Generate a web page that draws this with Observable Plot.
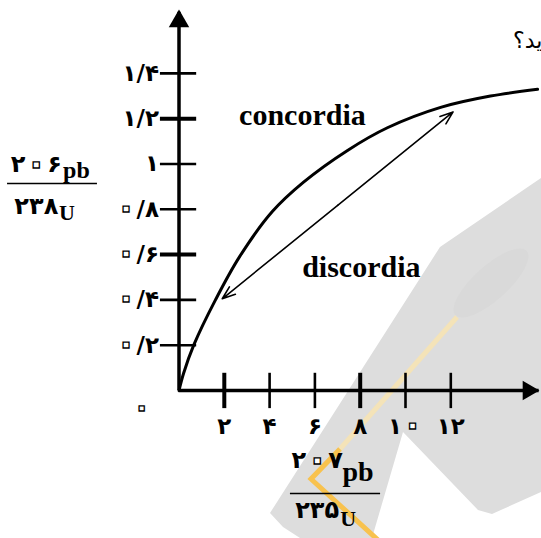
<!DOCTYPE html>
<html><head><meta charset="utf-8">
<script src="https://cdn.jsdelivr.net/npm/d3@7"></script>
<script src="https://cdn.jsdelivr.net/npm/@observablehq/plot@0.6"></script>
<style>
html,body{margin:0;padding:0;background:#fff;}
#wrap{position:relative;width:541px;height:538px;overflow:hidden;}
#wm{position:absolute;left:0;top:0;}
#chart{position:absolute;left:0;top:0;}
</style></head><body>
<div id="wrap">
<svg id="wm" width="541" height="538" aria-hidden="true">
  <path d="M541,178 L440,247 L270,513 L283,527 L300,538 L372,538 L403,432 L478,510 L492,514 L541,492 Z" fill="#dddddd"/>
  <ellipse cx="491" cy="283" rx="48" ry="17" transform="rotate(-42 491 283)" fill="#d9d9d9"/>
  <polyline points="457,317 340,449" stroke="#f4e3b8" stroke-width="5" fill="none"/>
  <polyline points="340,449 311,479 378,540" stroke="#f8c24e" stroke-width="5" fill="none" stroke-linejoin="miter"/>
</svg>
<div id="chart"></div>
</div>
<script>
// Concordia curve (x = 207Pb/235U, y = 206Pb/238U)
const concX = [0, 0.2, 0.65, 1.61, 2.67, 4.12, 5.5, 7.44, 9.2, 11.55, 13.75, 15.83];
const concY = [0, 0.075, 0.20, 0.40, 0.59, 0.79, 0.92, 1.06, 1.16, 1.25, 1.30, 1.33];
// Discordia double arrow end points
const discX = [1.91, 12.1];
const discY = [0.405, 1.23];
// Ticks
const yTicks = [0.2, 0.4, 0.6, 0.8, 1, 1.2, 1.4];
const yTickLabels = ["۰/۲", "۰/۴", "۰/۶", "۰/۸", "۱", "۱/۲", "۱/۴"];
const yBoldTicks = [0.6, 1.2];
const xTicks = [2, 4, 6, 8, 10, 12];
const xTickLabels = ["۲", "۴", "۶", "۸", "۱۰", "۱۲"];
const xBoldTicks = [2, 8];
const zeroLabel = ["۰"];
// Texts
const curveLabels = ["concordia", "discordia"];
const yLabelParts = ["۲۰۶", "pb", "۲۳۸", "U"];
const xLabelParts = ["۲۰۷", "pb", "۲۳۵", "U"];
const cornerText = ["ید؟"];

const conc = concX.map((x, i) => ({x, y: concY[i]}));
const mid = {x: (discX[0] + discX[1]) / 2, y: (discY[0] + discY[1]) / 2};
const discHalves = [0, 1].map(i => ({x1: mid.x, y1: mid.y, x2: discX[i], y2: discY[i]}));
const yT = yTicks.map((v, i) => ({v, label: yTickLabels[i], bold: yBoldTicks.includes(v)}));
const xT = xTicks.map((v, i) => ({v, label: xTickLabels[i], bold: xBoldTicks.includes(v)}));

const digitFont = "DejaVu Sans";
const latinFont = "Liberation Serif";

const plot = Plot.plot({
  width: 541, height: 538,
  margin: 0,
  style: {background: "transparent", overflow: "visible"},
  x: {domain: [0, 16], range: [178.5, 540.9], axis: null},
  y: {domain: [0, 1.6], range: [390, 27.6], axis: null},
  marks: [
    // axes lines
    Plot.ruleX([0], {y1: 0, y2: 1.67, stroke: "#000", strokeWidth: 3.5}),
    Plot.ruleY([0], {x1: 0, x2: 15.9, stroke: "#000", strokeWidth: 3.5}),
    Plot.dot([{x: 0, y: 1.63}], {x: "x", y: "y", symbol: "triangle", r: 7.6, fill: "#000", stroke: null}),
    Plot.dot([{x: 15.42, y: 0}], {x: "x", y: "y", symbol: "triangle", r: 7.2, rotate: 90, fill: "#000", stroke: null}),
    // y ticks
    Plot.ruleY(yT, {y: "v", x1: -0.82, x2: 0.78, stroke: "#000", strokeWidth: d => d.bold ? 4 : 2.6}),
    Plot.text(yT, {x: 0, y: "v", text: "label", dx: -20, textAnchor: "end", fontFamily: digitFont, fontWeight: "bold", fontSize: 23, fill: "#000"}),
    // x ticks
    Plot.ruleX(xT, {x: "v", y1: -0.08, y2: 0.076, stroke: "#000", strokeWidth: d => d.bold ? 4 : 2.6}),
    Plot.text(xT, {x: "v", y: 0, text: "label", dy: 36, fontFamily: digitFont, fontWeight: "bold", fontSize: 23, fill: "#000"}),
    Plot.text(zeroLabel, {x: -1.65, y: -0.08, text: d => d, fontFamily: digitFont, fontSize: 20, fill: "#000"}),
    // concordia curve
    Plot.line(conc, {x: "x", y: "y", curve: "catmull-rom", stroke: "#000", strokeWidth: 3}),
    // discordia double arrow
    Plot.arrow(discHalves, {x1: "x1", y1: "y1", x2: "x2", y2: "y2", stroke: "#000", strokeWidth: 1.6, headLength: 13, headAngle: 40}),
    // curve labels
    Plot.text([curveLabels[0]], {x: 5.45, y: 1.214, text: d => d, fontFamily: latinFont, fontWeight: "bold", fontSize: 30, fill: "#000"}),
    Plot.text([curveLabels[1]], {x: 8.05, y: 0.545, text: d => d, fontFamily: latinFont, fontWeight: "bold", fontSize: 30, fill: "#000"}),
    // y-axis fraction label
    Plot.text([yLabelParts[0]], {x: -6.3, y: 1.0, text: d => d, fontFamily: digitFont, fontWeight: "bold", fontSize: 24, fill: "#000"}),
    Plot.text([yLabelParts[1]], {x: -5.12, y: 0.972, text: d => d, textAnchor: "start", fontFamily: latinFont, fontWeight: "bold", fontSize: 24, fill: "#000"}),
    Plot.ruleY([0.914], {x1: -7.57, x2: -3.6, stroke: "#000", strokeWidth: 1.6}),
    Plot.text([yLabelParts[2]], {x: -6.3, y: 0.812, text: d => d, fontFamily: digitFont, fontWeight: "bold", fontSize: 24, fill: "#000"}),
    Plot.text([yLabelParts[3]], {x: -5.3, y: 0.785, text: d => d, textAnchor: "start", fontFamily: latinFont, fontWeight: "bold", fontSize: 22, fill: "#000"}),
    // x-axis fraction label
    Plot.text([xLabelParts[0]], {x: 6.1, y: -0.31, text: d => d, fontFamily: digitFont, fontWeight: "bold", fontSize: 24, fill: "#000"}),
    Plot.text([xLabelParts[1]], {x: 7.22, y: -0.36, text: d => d, textAnchor: "start", fontFamily: latinFont, fontWeight: "bold", fontSize: 28, fill: "#000"}),
    Plot.ruleY([-0.455], {x1: 4.92, x2: 8.9, stroke: "#000", strokeWidth: 1.6}),
    Plot.text([xLabelParts[2]], {x: 6.1, y: -0.53, text: d => d, fontFamily: digitFont, fontWeight: "bold", fontSize: 24, fill: "#000"}),
    Plot.text([xLabelParts[3]], {x: 7.12, y: -0.565, text: d => d, textAnchor: "start", fontFamily: latinFont, fontWeight: "bold", fontSize: 22, fill: "#000"}),
    // corner text (cut off by the page edge)
    Plot.text(cornerText, {x: 14.75, y: 1.545, text: d => d, textAnchor: "start", fontFamily: digitFont, fontSize: 22, fill: "#000"})
  ]
});

// Draw the Persian zero as a small hollow ring, as in the reference typeface
const NS = "http://www.w3.org/2000/svg";
plot.querySelectorAll("text").forEach(t => {
  const targets = t.querySelectorAll("tspan").length ? Array.from(t.querySelectorAll("tspan")) : [t];
  targets.forEach(el => {
    const s = el.textContent;
    if (!s.includes("۰")) return;
    el.textContent = "";
    s.split(/(۰)/).forEach(part => {
      if (!part) return;
      const ts = document.createElementNS(NS, "tspan");
      ts.textContent = part;
      if (part === "۰") {
        ts.setAttribute("fill", "#fff");
        ts.setAttribute("stroke", "#000");
        ts.setAttribute("stroke-width", "1.3");
        ts.setAttribute("font-weight", "bold");
        ts.setAttribute("font-size", "150%");
        ts.setAttribute("baseline-shift", "-0.07em");
        ts.setAttribute("letter-spacing", "-0.28em");
      }
      el.appendChild(ts);
    });
  });
});
document.getElementById("chart").appendChild(plot);
</script>
</body></html>
